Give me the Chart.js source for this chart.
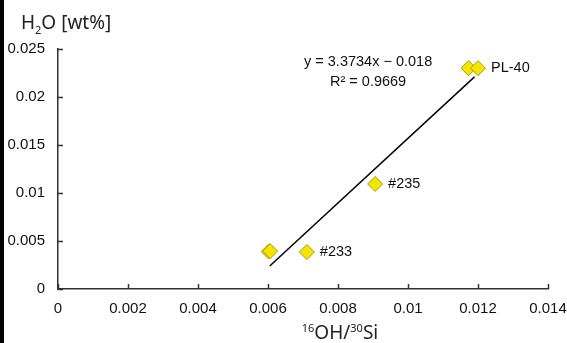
<!DOCTYPE html>
<html>
<head>
<meta charset="utf-8">
<script src="https://cdn.jsdelivr.net/npm/chart.js@4"></script>
<style>
  body { margin: 0; background: #fff; }
  #wrap { position: relative; width: 567px; height: 343px; }
  #edge { position: absolute; left: 0; top: 0; width: 4px; height: 343px; background: #000; }
</style>
</head>
<body>
<div id="wrap">
  <canvas id="waterChart"></canvas>
  <div id="edge"></div>
</div>
<script>
// Measured samples (16OH/30Si ratio vs H2O wt%)
const ratioValues = [0.00602, 0.00606, 0.00711, 0.00906, 0.01173, 0.01200];
const waterValues = [0.0039, 0.00395, 0.00385, 0.01094, 0.0230, 0.0230];
const sampleNames = ['', '', '#233', '#235', '', 'PL-40'];

// Fitted line end points, y = 3.3734x - 0.018
const fitX = [0.00605, 0.0119];
const fitY = [0.0024, 0.0221];
const fitText = ['y = 3.3734x \u2212 0.018', 'R\u00b2 = 0.9669'];

// Axis ticks
const xTicks = [0, 0.002, 0.004, 0.006, 0.008, 0.01, 0.012, 0.014];
const xTickLabels = ['0', '0.002', '0.004', '0.006', '0.008', '0.01', '0.012', '0.014'];
const yTicks = [0, 0.005, 0.01, 0.015, 0.02, 0.025];
const yTickLabels = ['0', '0.005', '0.01', '0.015', '0.02', '0.025'];

const tickFont = { family: 'Liberation Sans, Arial, sans-serif', size: 15 };
const titleFamily = '"Noto Sans", "DejaVu Sans", sans-serif';

// inward tick marks, point labels, fit equation and axis titles
const extras = {
  id: 'extras',
  afterDraw(chart) {
    const ctx = chart.ctx;
    const xs = chart.scales.x, ys = chart.scales.y;
    const area = chart.chartArea;
    ctx.save();
    ctx.strokeStyle = '#333';
    ctx.lineWidth = 1.5;
    xTicks.forEach(v => {
      const px = Math.round(xs.getPixelForValue(v)) + 0.5;
      ctx.beginPath();
      ctx.moveTo(px, area.bottom);
      ctx.lineTo(px, area.bottom - 5);
      ctx.stroke();
    });
    yTicks.forEach(v => {
      const py = Math.round(ys.getPixelForValue(v)) + 0.5;
      ctx.beginPath();
      ctx.moveTo(area.left, py);
      ctx.lineTo(area.left + 5, py);
      ctx.stroke();
    });

    // sample labels
    ctx.fillStyle = '#111';
    ctx.font = '14.5px Liberation Sans, Arial, sans-serif';
    ctx.textBaseline = 'middle';
    ctx.textAlign = 'left';
    const meta = chart.getDatasetMeta(0);
    meta.data.forEach((pt, i) => {
      if (sampleNames[i]) ctx.fillText(sampleNames[i], pt.x + 13, pt.y);
    });

    // fit equation
    ctx.textAlign = 'center';
    const ex = xs.getPixelForValue(0.00886);
    ctx.fillText(fitText[0], ex, ys.getPixelForValue(0.02365));
    ctx.fillText(fitText[1], ex, ys.getPixelForValue(0.02156));

    // y axis title: H2O [wt%]
    ctx.textAlign = 'left';
    ctx.textBaseline = 'alphabetic';
    ctx.fillStyle = '#222';
    let x = 21;
    ctx.font = '19px ' + titleFamily;
    ctx.fillText('H', x, 29);
    x += ctx.measureText('H').width;
    ctx.font = '11px ' + titleFamily;
    ctx.fillText('2', x, 34);
    x += ctx.measureText('2').width;
    ctx.font = '19px ' + titleFamily;
    ctx.fillText('O [wt%]', x, 29);

    // x axis title: 16OH/30Si
    const parts = [['16', 11, -7], ['OH/', 19, 0], ['30', 11, -7], ['Si', 19, 0]];
    let total = 0;
    parts.forEach(p => { ctx.font = p[1] + 'px ' + titleFamily; total += ctx.measureText(p[0]).width; });
    x = 340 - total / 2;
    parts.forEach(p => {
      ctx.font = p[1] + 'px ' + titleFamily;
      ctx.fillText(p[0], x, 339 + p[2]);
      x += ctx.measureText(p[0]).width;
    });
    ctx.restore();
  }
};

const points = ratioValues.map((v, i) => ({ x: v, y: waterValues[i] }));
const fitLine = fitX.map((v, i) => ({ x: v, y: fitY[i] }));

new Chart(document.getElementById('waterChart'), {
  type: 'scatter',
  data: {
    datasets: [{
      data: points,
      pointStyle: 'rectRot',
      pointRadius: 7.5,
      backgroundColor: '#f5e400',
      borderColor: '#a89a10',
      borderWidth: 1
    }, {
      type: 'line',
      data: fitLine,
      borderColor: '#000',
      borderWidth: 1.5,
      pointRadius: 0,
      fill: false
    }]
  },
  options: {
    responsive: true,
    maintainAspectRatio: false,
    animation: false,
    layout: { padding: { top: 49, right: 19, left: 0, bottom: 0 } },
    plugins: { legend: { display: false }, tooltip: { enabled: false } },
    scales: {
      x: {
        type: 'linear',
        min: 0,
        max: 0.014,
        afterBuildTicks: s => { s.ticks = xTicks.map(v => ({ value: v })); },
        afterFit: s => { s.height = 54; s.paddingLeft = 0; s.paddingRight = 0; },
        grid: { display: false, drawTicks: false },
        border: { display: true, color: '#333', width: 1.5 },
        ticks: {
          padding: 11,
          color: '#111',
          font: tickFont,
          maxRotation: 0,
          autoSkip: false,
          callback: (v, i) => xTickLabels[i]
        }
      },
      y: {
        type: 'linear',
        min: 0,
        max: 0.025,
        afterBuildTicks: s => { s.ticks = yTicks.map(v => ({ value: v })); },
        afterFit: s => { s.width = 58; s.paddingTop = 0; s.paddingBottom = 0; },
        grid: { display: false, drawTicks: false },
        border: { display: true, color: '#333', width: 1.5 },
        ticks: {
          padding: 13,
          color: '#111',
          font: tickFont,
          autoSkip: false,
          callback: (v, i) => yTickLabels[i]
        }
      }
    }
  },
  plugins: [extras]
});
</script>
</body>
</html>
